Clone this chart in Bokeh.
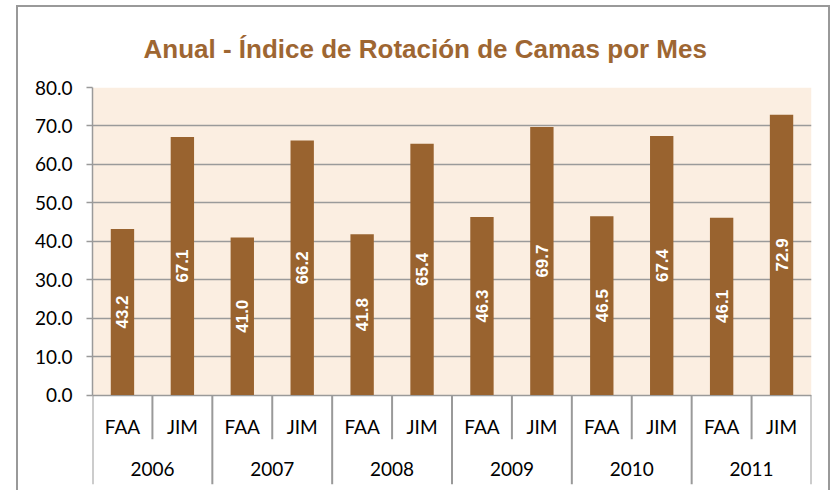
import math
from bokeh.plotting import figure
from bokeh.models import FactorRange, Range1d, FixedTicker, ColumnDataSource, BoxAnnotation
from bokeh.core.properties import value
from bokeh.embed import file_html
from bokeh.resources import INLINE

years = ["2006", "2007", "2008", "2009", "2010", "2011"]
hospitals = ["FAA", "JIM"]
values = [43.2, 67.1, 41.0, 66.2, 41.8, 65.4, 46.3, 69.7, 46.5, 67.4, 46.1, 72.9]
y_ticks = [0, 10, 20, 30, 40, 50, 60, 70, 80]
title_text = "Anual - Índice de Rotación de Camas por Mes"

factors = [(y, h) for y in years for h in hospitals]
src = ColumnDataSource(dict(
    x=factors,
    top=values,
    mid=[v / 2 for v in values],
    label=[f"{v:.1f}" for v in values],
))

BAR = "#99632F"
TITLE = "#9E6632"
GRID = "#9a9a9a"
AXIS_FONT = "Lato"

# layout (pixels)
PLOT_PX = 306          # height of the 0..80 region
BELOW_PX = 89          # category-label band below zero
Y_MAX = y_ticks[-1]
U = PLOT_PX / Y_MAX    # pixels per data unit
y_bottom = -BELOW_PX / U

p = figure(
    x_range=FactorRange(*factors, range_padding=0, group_padding=0, factor_padding=0),
    y_range=Range1d(y_bottom, Y_MAX),
    width=814, height=485,
    min_border_left=74, min_border_right=21, min_border_top=80, min_border_bottom=8,
    output_backend="svg", toolbar_location=None,
)
p.styles = {"border": "2px solid #999999", "border-bottom": "none",
            "margin-left": "16px", "margin-top": "5px"}
p.background_fill_color = "white"
p.border_fill_color = "white"
p.outline_line_color = None

# plot-area shading 0..80
p.add_layout(BoxAnnotation(bottom=0, top=Y_MAX, fill_color="#FBEEE1", fill_alpha=1,
                           line_color=None, level="image"))

p.vbar(x="x", top="top", width=0.39, source=src, fill_color=BAR, line_color=None)
p.text(x="x", y="mid", text="label", source=src, angle=math.pi / 2,
       text_align="center", text_baseline="middle", text_color="white",
       text_font=value("Liberation Sans"), text_font_style="bold",
       text_font_size="17px")

p.ygrid.ticker = FixedTicker(ticks=y_ticks)
p.ygrid.grid_line_color = GRID
p.ygrid.grid_line_width = 1.5
p.xgrid.grid_line_color = None

p.yaxis.ticker = FixedTicker(ticks=y_ticks)
p.yaxis.bounds = (0, Y_MAX)
p.yaxis.major_label_overrides = {t: f"{t:.1f}" for t in y_ticks}
p.yaxis.major_label_text_font = AXIS_FONT
p.yaxis.major_label_text_font_size = "19px"
p.yaxis.major_label_text_color = "black"
p.yaxis.axis_line_color = GRID
p.yaxis.axis_line_width = 1.5
p.yaxis.major_tick_line_color = GRID
p.yaxis.major_tick_line_width = 1.5
p.yaxis.major_tick_out = 6
p.yaxis.major_tick_in = 0
p.yaxis.minor_tick_line_color = None
p.yaxis.major_label_standoff = 14

p.xaxis.visible = False

# category labels and separators (Excel-style multi-level axis)
sub_src = ColumnDataSource(dict(x=factors, y=[-31 / U] * len(factors), t=[f[1] for f in factors]))
p.text(x="x", y="y", text="t", source=sub_src, text_align="center", text_baseline="middle",
       text_font=value(AXIS_FONT), text_font_size="19px", text_color="black")
grp_src = ColumnDataSource(dict(x=years, y=[-74 / U] * len(years), t=years))
p.text(x="x", y="y", text="t", source=grp_src, text_align="center", text_baseline="middle",
       text_font=value(AXIS_FONT), text_font_size="19px", text_color="black")

sep_x, sep_y1 = [], []
for (yr, h) in factors:
    sep_x.append((yr, h, -0.5))
    sep_y1.append(y_bottom if h == hospitals[0] else -44 / U)
sep_x.append((years[-1], hospitals[-1], 0.5))
sep_y1.append(y_bottom)
p.segment(x0=sep_x, y0=[0] * len(sep_x), x1=sep_x, y1=sep_y1,
          line_color=GRID, line_width=2)

p.title.text = title_text
p.title.align = "left"
p.title.offset = 51
p.title.standoff = 47
p.title.text_color = TITLE
p.title.text_font = "Liberation Sans"
p.title.text_font_style = "bold"
p.title.text_font_size = "26px"

open("out.html", "w").write(file_html(p, INLINE))
